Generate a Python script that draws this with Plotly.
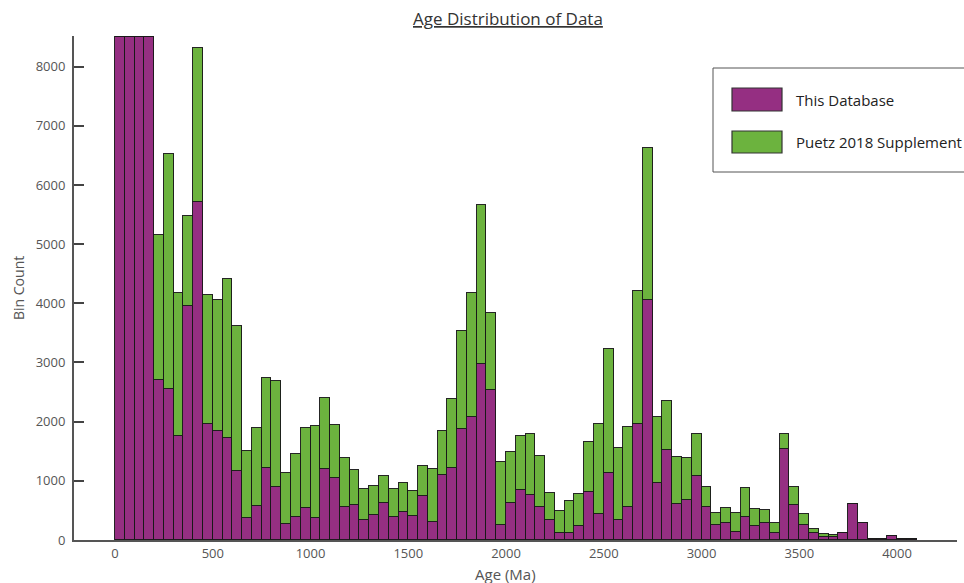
import plotly.graph_objects as go

# Bin left edges (Ma), 50 Ma bins
bin_starts = list(range(0, 4100, 50))
bin_width = 50

# Counts (first four bins clipped at the axis top, 8500)
this_database = [
    8500, 8500, 8500, 8500, 2700, 2550, 1750, 3950, 5710, 1960,
    1840, 1720, 1170, 370, 580, 1210, 890, 270, 395, 540,
    370, 1200, 1045, 555, 590, 340, 425, 620, 390, 468,
    406, 750, 310, 1100, 1224, 1884, 2076, 2967, 2527, 260,
    620, 840, 761, 553, 338, 113, 124, 231, 818, 446,
    1128, 338, 564, 1957, 4055, 965, 1514, 615, 677, 1083,
    558, 254, 282, 141, 395, 237, 282, 124, 1545, 587,
    248, 113, 56, 56, 124, 604, 282, 15, 20, 60,
    20, 10,
]
puetz_2018 = [
    0, 0, 0, 0, 2450, 3980, 2420, 1530, 2610, 2180,
    2220, 2690, 2440, 1140, 1310, 1530, 1800, 870, 1060, 1360,
    1560, 1200, 890, 835, 590, 530, 495, 455, 467, 502,
    429, 508, 886, 750, 1156, 1641, 2098, 2701, 1308, 1060,
    874, 920, 1033, 874, 452, 383, 536, 553, 840, 1511,
    2098, 1224, 1354, 2245, 2561, 1122, 838, 789, 705, 705,
    339, 197, 254, 310, 479, 282, 226, 158, 248, 310,
    198, 73, 45, 34, 0, 0, 0, 0, 0, 0,
    0, 0,
]

series_names = ["This Database", "Puetz 2018 Supplement"]
series_colors = ["#952F82", "#6CB33E"]
x_ticks = [0, 500, 1000, 1500, 2000, 2500, 3000, 3500, 4000]
y_ticks = [0, 1000, 2000, 3000, 4000, 5000, 6000, 7000, 8000]

FONT = "Open Sans"
edge = dict(color="rgba(25,25,25,0.95)", width=1)

fig = go.Figure()
for name, vals, col in zip(series_names, [this_database, puetz_2018], series_colors):
    fig.add_trace(go.Bar(
        x=bin_starts, y=vals, name=name, width=bin_width, offset=0,
        marker=dict(color=col, line=edge), showlegend=False,
    ))

# plot area in pixels
L, R, T, B = 74, 957, 36, 540
W, H = 964, 583
pw, ph = R - L, B - T

def px(x):
    return (x - L) / pw

def py(y):
    return (B - y) / ph

shapes = [
    dict(type="rect", xref="paper", yref="paper", x0=px(713), x1=px(990), y0=py(172), y1=py(68),
         line=dict(color="#555", width=1), fillcolor="white", layer="above"),
    dict(type="rect", xref="paper", yref="paper", x0=px(732), x1=px(782), y0=py(111), y1=py(88),
         line=dict(color="#333", width=1.2), fillcolor=series_colors[0], layer="above"),
    dict(type="rect", xref="paper", yref="paper", x0=px(732), x1=px(782), y0=py(153), y1=py(131),
         line=dict(color="#333", width=1.2), fillcolor=series_colors[1], layer="above"),
]

annotations = [
    dict(text=series_names[0], xref="paper", yref="paper", x=px(794), y=py(100),
         xanchor="left", yanchor="middle", showarrow=False,
         font=dict(family=FONT, size=15, color="#222")),
    dict(text=series_names[1], xref="paper", yref="paper", x=px(794), y=py(142),
         xanchor="left", yanchor="middle", showarrow=False,
         font=dict(family=FONT, size=15, color="#222")),
    dict(text="<u>Age Distribution of Data</u>", xref="paper", yref="paper", x=px(508), y=py(19),
         xanchor="center", yanchor="middle", showarrow=False,
         font=dict(family=FONT, size=17, color="#333")),
    dict(text="Age (Ma)", xref="paper", yref="paper", x=px(505), y=py(574),
         xanchor="center", yanchor="middle", showarrow=False,
         font=dict(family=FONT, size=15, color="#555")),
    dict(text="Bin Count", xref="paper", yref="paper", x=px(18), y=py(288),
         xanchor="center", yanchor="middle", showarrow=False, textangle=-90,
         font=dict(family=FONT, size=14, color="#555")),
]

fig.update_layout(
    width=W, height=H,
    margin=dict(l=L, r=W - R, t=T, b=H - B),
    barmode="stack", bargap=0,
    plot_bgcolor="white", paper_bgcolor="white",
    font=dict(family=FONT, size=13, color="#555"),
    shapes=shapes, annotations=annotations,
    xaxis=dict(range=[-210, 4307], tickvals=x_ticks, showline=True, linecolor="#555",
               linewidth=2, ticks="", showgrid=False, zeroline=False,
               tickfont=dict(family=FONT, size=13, color="#555")),
    yaxis=dict(range=[0, 8517], tickvals=y_ticks, showline=True, linecolor="#555",
               linewidth=2, ticks="inside", ticklen=10, tickwidth=2, tickcolor="#444",
               showgrid=False, zeroline=False, ticklabelstandoff=4,
               tickfont=dict(family=FONT, size=13, color="#555")),
)

fig.write_html("out.html")
